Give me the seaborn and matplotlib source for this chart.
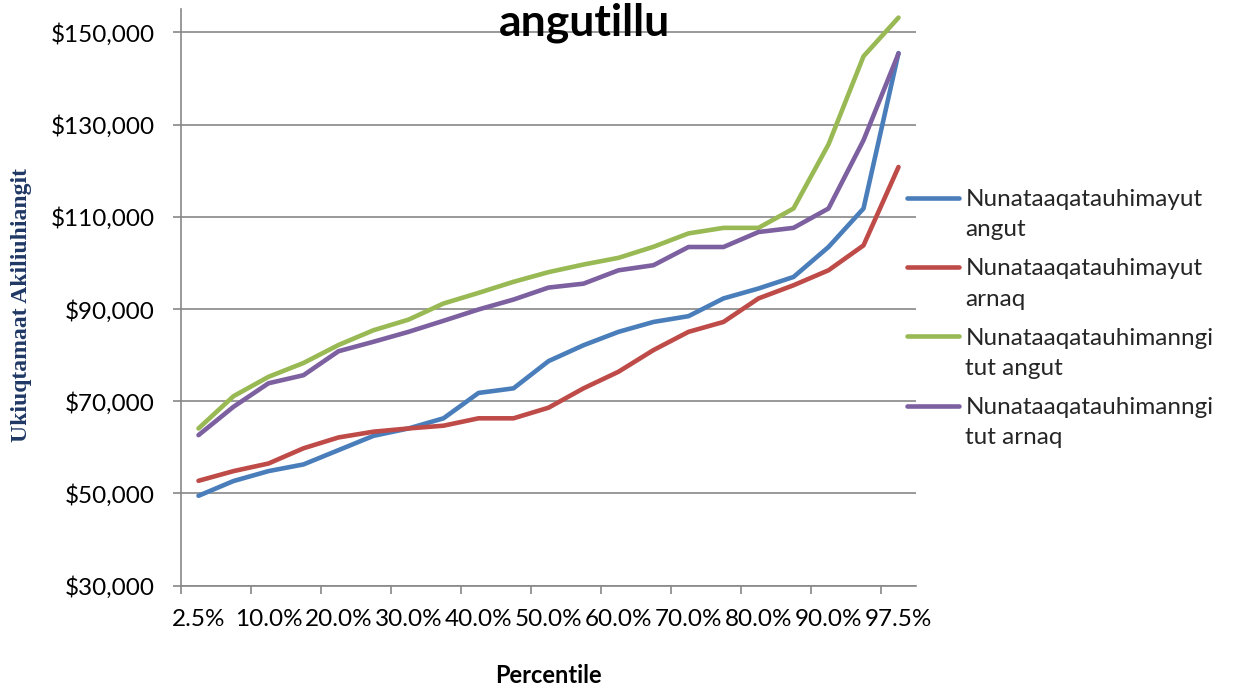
import numpy as np
import pandas as pd
import matplotlib
matplotlib.use("Agg")
import matplotlib.pyplot as plt
from matplotlib.ticker import FuncFormatter, FixedLocator
from matplotlib.legend_handler import HandlerLine2D
import seaborn as sns

# ---- data ----
percentiles = ["2.5%", "5.0%", "10.0%", "15.0%", "20.0%", "25.0%", "30.0%", "35.0%",
               "40.0%", "45.0%", "50.0%", "55.0%", "60.0%", "65.0%", "70.0%", "75.0%",
               "80.0%", "85.0%", "90.0%", "95.0%", "97.5%"]
series_names = ["Nunataaqatauhimayut\nangut", "Nunataaqatauhimayut\narnaq",
                "Nunataaqatauhimanngi\ntut angut", "Nunataaqatauhimanngi\ntut arnaq"]
mayut_angut = [49500, 52700, 54850, 56300, 59400, 62500, 64100, 66300, 71800, 72800, 78700,
               82150, 85050, 87200, 88450, 92300, 94450, 96950, 103450, 111800, 145500]
mayut_arnaq = [52750, 54850, 56500, 59800, 62150, 63400, 64100, 64700, 66300, 66300, 68600,
               72800, 76400, 81100, 85050, 87200, 92300, 95150, 98400, 103800, 120800]
manngitut_angut = [64100, 71100, 75300, 78300, 82200, 85400, 87700, 91200, 93500, 95900, 98000,
                   99650, 101100, 103500, 106400, 107600, 107600, 111800, 125700, 144800, 153200]
manngitut_arnaq = [62650, 68800, 73900, 75650, 80850, 82900, 85050, 87450, 89900, 92050, 94650,
                   95500, 98400, 99500, 103450, 103450, 106700, 107600, 111800, 126600, 145400]
tick_labels = ["2.5%", "10.0%", "20.0%", "30.0%", "40.0%", "50.0%", "60.0%", "70.0%",
               "80.0%", "90.0%", "97.5%"]
colors = ["#4A7EBB", "#BE4B48", "#98B954", "#7D60A0"]

rows = []
for name, vals in zip(series_names, [mayut_angut, mayut_arnaq, manngitut_angut, manngitut_arnaq]):
    for i, (p, v) in enumerate(zip(percentiles, vals)):
        rows.append({"pos": i, "Percentile": p, "value": v, "series": name})
df = pd.DataFrame(rows)

sns.set_theme(style="white")
plt.rcParams["font.family"] = ["Lato", "DejaVu Sans"]
plt.rcParams["lines.solid_capstyle"] = "round"
plt.rcParams["lines.solid_joinstyle"] = "round"

W, H = 1233, 686
fig = plt.figure(figsize=(W / 100, H / 100), dpi=100)
ax_l, ax_r, ax_t, ax_b = 181, 916, 9.3, 585.7
ax = fig.add_axes([ax_l / W, 1 - ax_b / H, (ax_r - ax_l) / W, (ax_b - ax_t) / H])

sns.lineplot(data=df, x="pos", y="value", hue="series", palette=colors,
             linewidth=3.3, ax=ax, legend=False, sort=False)

ax.set_xlim(-0.5, len(percentiles) - 0.5)
ax.set_ylim(30000, 155000)
ax.set_yticks(np.arange(30000, 150001, 20000))
ax.yaxis.set_major_formatter(FuncFormatter(lambda v, p: "${:,.0f}".format(v)))
ax.set_xticks(np.arange(0, len(percentiles), 2))
ax.set_xticklabels(tick_labels)
ax.xaxis.set_minor_locator(FixedLocator(np.arange(-0.5, len(percentiles), 2)))

grid_c = "#878787"
ax.grid(axis="y", color=grid_c, linewidth=1.2)
ax.grid(axis="x", visible=False)
for s in ["top", "right"]:
    ax.spines[s].set_visible(False)
for s in ["left", "bottom"]:
    ax.spines[s].set_color(grid_c)
    ax.spines[s].set_linewidth(1.2)
ax.tick_params(axis="y", which="major", length=6, width=1.2, color=grid_c, pad=13,
               labelsize=17.5, labelcolor="black", direction="out", left=True)
ax.tick_params(axis="x", which="major", length=0, pad=17, labelsize=17.5, labelcolor="black")
ax.tick_params(axis="x", which="minor", length=6, width=1.2, color=grid_c, direction="out", bottom=True)
ax.set_xlabel("")
ax.set_ylabel("")


class TopHandler(HandlerLine2D):
    def create_artists(self, legend, orig_handle, xdescent, ydescent, width, height, fontsize, trans):
        arts = super().create_artists(legend, orig_handle, xdescent, ydescent, width, height,
                                      fontsize, trans)
        for a in arts:
            a.set_ydata(np.asarray(a.get_ydata()) + 0.7 * fontsize)
        return arts


handles = ax.get_lines()[:4]
th = TopHandler()
leg = fig.legend(handles, series_names, loc="upper left", bbox_to_anchor=(907 / W, 1 - 189 / H),
                 frameon=False, fontsize=17.5, handlelength=2.15, handletextpad=0.25,
                 labelspacing=0.74, borderpad=0, borderaxespad=0,
                 handler_map={h: th for h in handles})
for t in leg.get_texts():
    t.set_linespacing(1.55)

fig.text(584.5 / W, 1 - 35.7 / H, "angutillu", ha="center", va="baseline",
         fontsize=32, fontweight="bold", color="black")
fig.text(548.5 / W, 1 - 683 / H, "Percentile", ha="center", va="baseline",
         fontsize=17, fontweight="bold", color="black")
fig.text(22 / W, 1 - 305 / H, "Ukiuqtamaat Akiliuhiangit", ha="center", va="center",
         rotation=90, fontsize=17, fontweight="bold", color="#1F3864",
         family=["Liberation Serif", "DejaVu Serif"])

fig.savefig("out.png", dpi=100)
